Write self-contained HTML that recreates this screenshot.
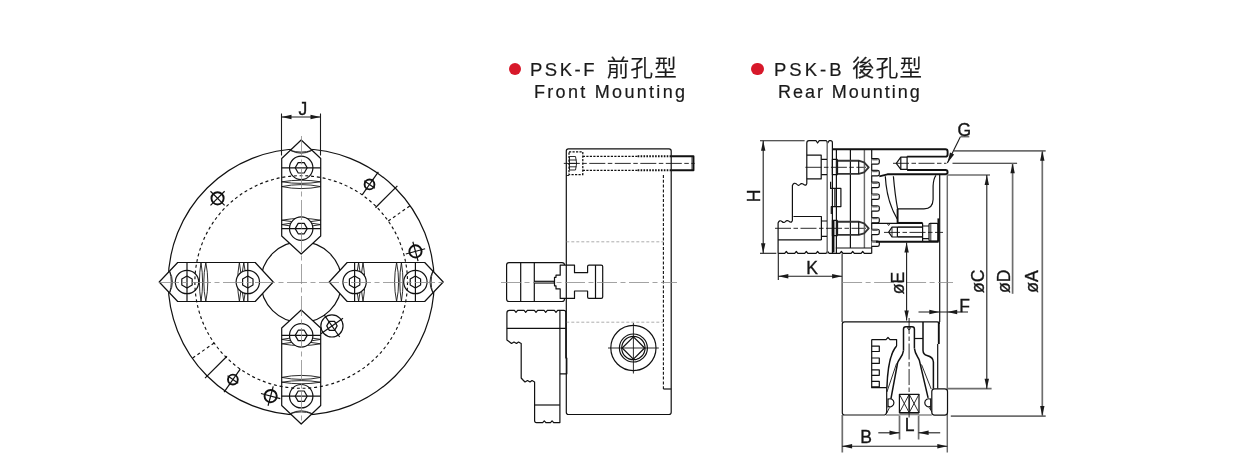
<!DOCTYPE html>
<html lang="zh-Hant"><head><meta charset="utf-8"><title>PSK</title>
<style>
html,body{margin:0;padding:0;background:#fff;}
body{width:1240px;height:471px;overflow:hidden;position:relative;font-family:"Liberation Sans","Noto Sans CJK TC",sans-serif;color:#1a1a1a;}
svg{position:absolute;left:0;top:0;display:block;will-change:transform;}
svg text{font-family:"Liberation Sans","Noto Sans CJK TC",sans-serif;fill:#161616;stroke:#161616;stroke-width:.35px;}
.m,.mw{stroke:#111;stroke-width:1.2;fill:none;stroke-linejoin:round;}
.mw{fill:#fff;}
.h{stroke:#111;stroke-width:1.5;fill:none;stroke-linejoin:round;}
.kw{stroke:#111;stroke-width:1.9;fill:#fff;}
.n{stroke:#151515;stroke-width:.9;fill:none;}
.k{stroke:#111;stroke-width:1.9;fill:none;stroke-linejoin:round;}
.kg{stroke:#333;stroke-width:1.9;fill:none;stroke-linejoin:round;}
.g{stroke:#6a6a6a;stroke-width:1.45;fill:none;}
.gk{stroke:#777;stroke-width:1.3;fill:none;}
.gx{stroke:#888;stroke-width:2.4;fill:none;}
.e{stroke:#1c1c1c;stroke-width:1.1;fill:none;}
.eg{stroke:#6e6e6e;stroke-width:1.7;fill:none;}
.a{fill:#1a1a1a;stroke:none;}
.c{stroke:#8c8c8c;stroke-width:.8;fill:none;stroke-dasharray:20 3.5 5 3.5;}
.cb{stroke:#151515;stroke-width:.9;fill:none;stroke-dasharray:16 2.5 4.5 2.5;}
.dt{stroke:#111;stroke-width:1.15;fill:none;stroke-dasharray:3 2.8;}
.dd{stroke:#111;stroke-width:1.25;fill:none;stroke-dasharray:2.2 1.3;}
.dk{stroke:#111;stroke-width:1.9;fill:none;stroke-dasharray:1.6 1.3;}
.dh{stroke:#111;stroke-width:1.1;fill:none;stroke-dasharray:3 1.8;}
.dg{stroke:#8a8a8a;stroke-width:.7;fill:none;stroke-dasharray:3 2;}
.ttl{position:absolute;white-space:nowrap;color:#1a1a1a;will-change:transform;-webkit-text-stroke:.2px #1a1a1a;}
.dot{position:absolute;width:12.4px;height:12.4px;border-radius:50%;background:#d7182a;}
.t1{font-size:18.5px;letter-spacing:2.5px;line-height:22px;}
.t1 .cj{font-size:22.5px;letter-spacing:1.3px;font-weight:350;margin-left:2px;}
.t2{font-size:18px;letter-spacing:2.3px;line-height:22px;}
</style></head>
<body>
<svg width="1240" height="471" viewBox="0 0 1240 471">
<circle class="m" cx="301.2" cy="282" r="133"/>
<circle class="m" cx="301.2" cy="282" r="40.4"/>
<line class="dt" x1="388.28" y1="221.03" x2="410.15" y2="205.71"/>
<line class="m" x1="375.45" y1="207.75" x2="397.37" y2="185.83"/>
<line class="m" x1="362.17" y1="194.92" x2="378.35" y2="171.82"/>
<line class="dt" x1="214.12" y1="342.97" x2="192.25" y2="358.29"/>
<line class="m" x1="226.95" y1="356.25" x2="205.03" y2="378.17"/>
<line class="m" x1="240.23" y1="369.08" x2="224.05" y2="392.18"/>
<circle class="kw" cx="217.55" cy="198.35" r="6.1"/>
<line class="m" x1="210.48" y1="205.42" x2="224.62" y2="191.28"/>
<line class="m" x1="224.62" y1="205.42" x2="210.48" y2="191.28"/>
<circle class="kw" cx="369.51" cy="184.44" r="4.9"/>
<line class="m" x1="365.78" y1="189.76" x2="373.24" y2="179.11"/>
<line class="m" x1="374.84" y1="188.17" x2="364.19" y2="180.71"/>
<circle class="kw" cx="415.47" cy="251.38" r="6.1"/>
<line class="m" x1="405.81" y1="253.97" x2="425.13" y2="248.79"/>
<line class="m" x1="418.06" y1="261.04" x2="412.88" y2="241.72"/>
<circle class="kw" cx="270.63" cy="396.08" r="6.1"/>
<line class="m" x1="268.05" y1="405.74" x2="273.22" y2="386.42"/>
<line class="m" x1="280.29" y1="398.66" x2="260.97" y2="393.49"/>
<circle class="kw" cx="232.89" cy="379.56" r="4.9"/>
<line class="m" x1="229.16" y1="384.89" x2="236.62" y2="374.24"/>
<line class="m" x1="238.21" y1="383.29" x2="227.56" y2="375.83"/>
<circle class="mw" cx="331.94" cy="325.91" r="11.1"/>
<polygon class="m" points="337.14,325.91 334.54,330.41 329.34,330.41 326.74,325.91 329.34,321.4 334.54,321.4"/>
<line class="m" x1="324.2" y1="314.85" x2="339.69" y2="336.97"/>
<line class="m" x1="320.89" y1="333.65" x2="343" y2="318.16"/>
<g transform="translate(301.2 282) rotate(0)">
<path class="mw" d="M0,-142 L19.5,-123.5 L19.5,-46 L0,-28 L-19.5,-46 L-19.5,-123.5 Z"/>
<path class="n" d="M-10.8,-131.6 Q0,-126 10.8,-131.6 Q0,-128.2 -10.8,-131.6"/>
<path class="n" d="M-19.5,-100.2 Q0,-103.4 19.5,-100.2 Q0,-97 -19.5,-100.2 Z"/>
<path class="n" d="M-19.5,-95.4 Q0,-99.4 19.5,-95.4 Q0,-91.4 -19.5,-95.4 Z"/>
<path class="n" d="M-19.5,-61.8 Q0,-65.4 19.5,-61.8 Q0,-58.2 -19.5,-61.8 Z"/>
<path class="n" d="M-19.5,-57.4 Q0,-61.4 19.5,-57.4 Q0,-53.4 -19.5,-57.4 Z"/>
<circle class="mw" cx="0" cy="-114.2" r="11.7"/>
<polygon class="m" points="6,-114.2 3,-109 -3,-109 -6,-114.2 -3,-119.4 3,-119.4"/>
<line class="m" x1="-19.5" y1="-114.2" x2="19.5" y2="-114.2"/>
<circle class="mw" cx="0" cy="-53.4" r="11.7"/>
<polygon class="m" points="6,-53.4 3,-48.2 -3,-48.2 -6,-53.4 -3,-58.6 3,-58.6"/>
<line class="m" x1="-19.5" y1="-53.4" x2="19.5" y2="-53.4"/>
</g>
<g transform="translate(301.2 282) rotate(90)">
<path class="mw" d="M0,-142 L19.5,-123.5 L19.5,-46 L0,-28 L-19.5,-46 L-19.5,-123.5 Z"/>
<path class="n" d="M-10.8,-131.6 Q0,-126 10.8,-131.6 Q0,-128.2 -10.8,-131.6"/>
<path class="n" d="M-19.5,-100.2 Q0,-103.4 19.5,-100.2 Q0,-97 -19.5,-100.2 Z"/>
<path class="n" d="M-19.5,-95.4 Q0,-99.4 19.5,-95.4 Q0,-91.4 -19.5,-95.4 Z"/>
<path class="n" d="M-19.5,-61.8 Q0,-65.4 19.5,-61.8 Q0,-58.2 -19.5,-61.8 Z"/>
<path class="n" d="M-19.5,-57.4 Q0,-61.4 19.5,-57.4 Q0,-53.4 -19.5,-57.4 Z"/>
<circle class="mw" cx="0" cy="-114.2" r="11.7"/>
<polygon class="m" points="6,-114.2 3,-109 -3,-109 -6,-114.2 -3,-119.4 3,-119.4"/>
<line class="m" x1="-19.5" y1="-114.2" x2="19.5" y2="-114.2"/>
<circle class="mw" cx="0" cy="-53.4" r="11.7"/>
<polygon class="m" points="6,-53.4 3,-48.2 -3,-48.2 -6,-53.4 -3,-58.6 3,-58.6"/>
<line class="m" x1="-19.5" y1="-53.4" x2="19.5" y2="-53.4"/>
</g>
<g transform="translate(301.2 282) rotate(180)">
<path class="mw" d="M0,-142 L19.5,-123.5 L19.5,-46 L0,-28 L-19.5,-46 L-19.5,-123.5 Z"/>
<path class="n" d="M-10.8,-131.6 Q0,-126 10.8,-131.6 Q0,-128.2 -10.8,-131.6"/>
<path class="n" d="M-19.5,-100.2 Q0,-103.4 19.5,-100.2 Q0,-97 -19.5,-100.2 Z"/>
<path class="n" d="M-19.5,-95.4 Q0,-99.4 19.5,-95.4 Q0,-91.4 -19.5,-95.4 Z"/>
<path class="n" d="M-19.5,-61.8 Q0,-65.4 19.5,-61.8 Q0,-58.2 -19.5,-61.8 Z"/>
<path class="n" d="M-19.5,-57.4 Q0,-61.4 19.5,-57.4 Q0,-53.4 -19.5,-57.4 Z"/>
<circle class="mw" cx="0" cy="-114.2" r="11.7"/>
<polygon class="m" points="6,-114.2 3,-109 -3,-109 -6,-114.2 -3,-119.4 3,-119.4"/>
<line class="m" x1="-19.5" y1="-114.2" x2="19.5" y2="-114.2"/>
<circle class="mw" cx="0" cy="-53.4" r="11.7"/>
<polygon class="m" points="6,-53.4 3,-48.2 -3,-48.2 -6,-53.4 -3,-58.6 3,-58.6"/>
<line class="m" x1="-19.5" y1="-53.4" x2="19.5" y2="-53.4"/>
</g>
<g transform="translate(301.2 282) rotate(270)">
<path class="mw" d="M0,-142 L19.5,-123.5 L19.5,-46 L0,-28 L-19.5,-46 L-19.5,-123.5 Z"/>
<path class="n" d="M-10.8,-131.6 Q0,-126 10.8,-131.6 Q0,-128.2 -10.8,-131.6"/>
<path class="n" d="M-19.5,-100.2 Q0,-103.4 19.5,-100.2 Q0,-97 -19.5,-100.2 Z"/>
<path class="n" d="M-19.5,-95.4 Q0,-99.4 19.5,-95.4 Q0,-91.4 -19.5,-95.4 Z"/>
<path class="n" d="M-19.5,-61.8 Q0,-65.4 19.5,-61.8 Q0,-58.2 -19.5,-61.8 Z"/>
<path class="n" d="M-19.5,-57.4 Q0,-61.4 19.5,-57.4 Q0,-53.4 -19.5,-57.4 Z"/>
<circle class="mw" cx="0" cy="-114.2" r="11.7"/>
<polygon class="m" points="6,-114.2 3,-109 -3,-109 -6,-114.2 -3,-119.4 3,-119.4"/>
<line class="m" x1="-19.5" y1="-114.2" x2="19.5" y2="-114.2"/>
<circle class="mw" cx="0" cy="-53.4" r="11.7"/>
<polygon class="m" points="6,-53.4 3,-48.2 -3,-48.2 -6,-53.4 -3,-58.6 3,-58.6"/>
<line class="m" x1="-19.5" y1="-53.4" x2="19.5" y2="-53.4"/>
</g>
<circle class="dt" cx="301.2" cy="282" r="106.3"/>
<line class="c" x1="159" y1="282.5" x2="443.5" y2="282.5"/>
<line class="c" x1="301.5" y1="136" x2="301.5" y2="423"/>
<line class="e" x1="281.5" y1="113.5" x2="281.5" y2="155.5"/>
<line class="e" x1="320.5" y1="113.5" x2="320.5" y2="155.5"/>
<line class="e" x1="281.5" y1="117" x2="320.5" y2="117"/>
<polygon class="a" points="281.5,117 291.5,119.2 291.5,114.8"/>
<polygon class="a" points="320.5,117 310.5,114.8 310.5,119.2"/>
<text x="302.8" y="114.6" font-size="17.5" text-anchor="middle">J</text>
<path class="mw" d="M509,262.6 L562,262.6 Q564.5,262.6 564.5,265 L564.5,299 Q564.5,301.5 562,301.5 L509,301.5 Q506.6,301.5 506.6,299 L506.6,265 Q506.6,262.6 509,262.6 Z"/>
<line class="m" x1="520.7" y1="262.6" x2="520.7" y2="301.5"/>
<line class="m" x1="534.3" y1="262.6" x2="534.3" y2="301.5"/>
<line class="m" x1="534.3" y1="281.3" x2="554.5" y2="281.3"/>
<line class="m" x1="534.3" y1="283" x2="554.5" y2="283"/>
<path class="mw" d="M560.2,265.1 L574.5,265.1 L574.5,272.7 L587.6,272.7 L587.6,266.6 Q587.6,265.1 589,265.1 L601.2,265.1 Q602.7,265.1 602.7,266.6 L602.7,297 Q602.7,298.4 601.2,298.4 L589,298.4 Q587.6,298.4 587.6,297 L587.6,291 L574.5,291 L574.5,298.4 L560.2,298.4 L560.2,288.9 L556,288.9 L556,285.8 L554.5,285.8 L554.5,277.3 L556,277.3 L556,275.2 L560.2,275.2 Z"/>
<line class="m" x1="595.5" y1="265.1" x2="595.5" y2="298.4"/>
<path class="m" d="M568.4,148.8 L669,148.8 Q671.2,148.8 671.2,151 L671.2,412.3 Q671.2,414.5 669,414.5 L568.4,414.5 Q566.3,414.5 566.3,412.3 L566.3,151 Q566.3,148.8 568.4,148.8 Z"/>
<rect class="dd" x="569" y="151.9" width="13.8" height="22.6"/>
<line class="dd" x1="582.8" y1="156.3" x2="637.7" y2="156.3"/>
<line class="dd" x1="582.8" y1="170.3" x2="637.7" y2="170.3"/>
<line class="dk" x1="637.7" y1="156.3" x2="671.2" y2="156.3"/>
<line class="dk" x1="637.7" y1="170.3" x2="671.2" y2="170.3"/>
<path class="k" d="M671.2,156.3 L693.5,156.3 L693.5,170.3 L671.2,170.3"/>
<line class="n" x1="692" y1="156.3" x2="692" y2="170.3"/>
<path class="n" d="M569.5,156.5 L575.5,156.5 Q577.8,163.3 575.5,170 L569.5,170 Z"/>
<line class="n" x1="569.5" y1="160" x2="576.5" y2="160"/>
<line class="n" x1="569.5" y1="163.4" x2="577" y2="163.4"/>
<line class="n" x1="569.5" y1="166.8" x2="576.5" y2="166.8"/>
<line class="cb" x1="563.8" y1="163.4" x2="694.7" y2="163.4"/>
<line class="n" x1="566.3" y1="175.5" x2="569" y2="175.5"/>
<line class="dh" x1="663.4" y1="175" x2="663.4" y2="389"/>
<line class="m" x1="663.4" y1="389" x2="671.2" y2="389"/>
<line class="dg" x1="566.3" y1="241.8" x2="663.4" y2="241.8"/>
<line class="dg" x1="566.3" y1="322.2" x2="663.4" y2="322.2"/>
<line class="c" x1="501" y1="282.5" x2="677" y2="282.5"/>
<circle class="m" cx="633.4" cy="348" r="22.6"/>
<circle class="m" cx="633.4" cy="348" r="14"/>
<circle class="m" cx="633.4" cy="348" r="11.7"/>
<polygon class="m" points="633.4,336.8 644.6,348 633.4,359.2 622.2,348"/>
<line class="n" x1="608" y1="348" x2="658.8" y2="348"/>
<line class="n" x1="633.4" y1="323" x2="633.4" y2="373.5"/>
<path class="mw" d="M506.9,313 Q506.9,310.4 509.5,310.4 L514.4,310.4 L516,312.3 L517.6,310.4 L524.1,310.4 L525.7,312.3 L527.3,310.4 L534.4,310.4 L536,312.3 L537.6,310.4 L544.1,310.4 L545.7,312.3 L547.3,310.4 L554.4,310.4 L556,312.3 L557.6,310.4 L559.9,310.4 L559.9,422.6 L553.7,422.6 L552.1,420.8 L550.5,422.6 L545.9,422.6 L544.3,420.8 L542.7,422.6 L536.5,422.6 Q534.6,422.6 534.6,420.5 L534.6,382 L532,380.5 L530,382 L527.5,380.5 L525,382 L522.5,379.5 L521.2,378 L521.2,343.5 L518.5,342 L516.5,343.5 L514,342 L511.5,343.5 L509,341.5 L506.9,340 Z"/>
<line class="m" x1="506.9" y1="328.3" x2="565.8" y2="328.3"/>
<line class="m" x1="534.6" y1="405" x2="559.9" y2="405"/>
<path class="m" d="M559.9,310.4 L563.8,310.4 Q565.8,310.4 565.8,312.4 L565.8,358 L566.8,358 L566.8,373.8 L559.9,373.8"/>
<path class="m" d="M806.8,143 Q806.8,140.7 809,140.7 L816,140.7 L817.6,143 L819.2,140.7 L826.2,140.7 L827.7,143 L829.2,140.7 L830.4,140.7 Q832.4,140.7 832.4,142.7 L832.4,253.4"/>
<path class="m" d="M806.8,143 L806.8,183.5 Q806.5,185.5 804.5,185 Q801.5,182.5 800,184.5 Q798.5,186.5 796.5,184 Q794,182 792.4,185.5 L792.4,220.5 Q792,222.5 790,222 Q787,219.5 785.5,221.5 Q784,223.5 782,221.5 Q779.5,219.5 778.1,223 L778.1,253.4"/>
<path class="m" d="M778.1,253.4 L784.7,253.4 L786.3,251.5 L787.9,253.4 L794.7,253.4 L796.3,251.5 L797.9,253.4 L804.7,253.4 L806.3,251.5 L807.9,253.4 L816,253.4 L817.6,251.5 L819.2,253.4 L826,253.4 L827.6,251.5 L829.2,253.4 L839.8,253.4 L841.4,251.5 L843,253.4 L851.1,253.4 L852.7,251.5 L854.3,253.4 L861.1,253.4 L862.7,251.5 L864.3,253.4 L871.6,253.4"/>
<line class="g" x1="827.2" y1="141" x2="827.2" y2="253.4"/>
<path class="m" d="M806.8,155.1 L821.2,155.1 L821.2,178.9 L806.8,178.9"/>
<path class="m" d="M821.2,159.4 L827,159.4 M821.2,174.6 L827,174.6"/>
<path class="m" d="M793.4,216.5 L821.4,216.5 L821.4,239.9"/>
<line class="m" x1="778.1" y1="239.9" x2="821.4" y2="239.9"/>
<path class="m" d="M821.4,221 L827,221 M821.4,236.3 L827,236.3"/>
<line class="cb" x1="805.4" y1="167.3" x2="866" y2="167.3"/>
<line class="cb" x1="775" y1="228.3" x2="866" y2="228.3"/>
<path class="m" d="M830.6,181.8 L830.6,188.4 L840.9,188.4 L840.9,206.6 L831.3,206.6 L831.3,214"/>
<line class="m" x1="834.9" y1="188.4" x2="834.9" y2="206.6"/>
<line class="k" x1="833.5" y1="220" x2="833.5" y2="252.5"/>
<line class="m" x1="836.4" y1="149.2" x2="836.4" y2="253.4"/>
<line class="m" x1="850.4" y1="149.2" x2="850.4" y2="248"/>
<line class="g" x1="864.4" y1="149.2" x2="864.4" y2="248"/>
<line class="m" x1="835.8" y1="248" x2="871.6" y2="248"/>
<path class="kg" d="M837.2,160.7 L858.7,160.7 L864.1,162.3 L868.7,167.3 L864.1,172.3 L858.7,173.9 L837.2,173.9 Z"/>
<line class="m" x1="858.7" y1="160.7" x2="858.7" y2="173.9"/>
<rect class="m" x="832.4" y="159.3" width="4.8" height="15.4"/>
<path class="kg" d="M837.2,221.7 L858.7,221.7 L864.1,223.3 L868.7,228.3 L864.1,233.3 L858.7,234.9 L837.2,234.9 Z"/>
<line class="m" x1="858.7" y1="221.7" x2="858.7" y2="234.9"/>
<rect class="m" x="832.4" y="220.3" width="4.8" height="15.4"/>
<path class="k" d="M832.4,149.2 L945.4,149.2 Q947.6,149.2 947.6,151.4 L947.6,154.4 Q947.6,156.6 945.4,156.6 L907.1,156.6"/>
<path class="k" d="M907.1,170 L945.4,170 Q947.6,170 947.6,172.2 Q947.6,174.3 945.4,174.3 L887.4,174.3 L879.3,176.3"/>
<path class="m" d="M907.1,157.2 L900.8,157.2 L896.3,163.3 L900.8,169.4 L907.1,169.4"/>
<line class="m" x1="900.8" y1="157.2" x2="900.8" y2="169.4"/>
<line class="m" x1="907.1" y1="156.6" x2="907.1" y2="170"/>
<line class="cb" x1="893" y1="163.3" x2="946.5" y2="163.3"/>
<path class="m" d="M871.7,149.2 L871.7,253.4"/>
<path class="mw" d="M871.7,158.7 L877.3,158.7 Q879.3,158.7 879.3,160.3 L879.3,162.5 Q879.3,164.1 877.3,164.1 L871.7,164.1"/>
<line class="g" x1="872.2" y1="159.7" x2="877.7" y2="159.7"/>
<path class="mw" d="M871.7,170.46 L877.3,170.46 Q879.3,170.46 879.3,172.06 L879.3,174.26 Q879.3,175.86 877.3,175.86 L871.7,175.86"/>
<line class="g" x1="872.2" y1="171.46" x2="877.7" y2="171.46"/>
<path class="mw" d="M871.7,182.22 L877.3,182.22 Q879.3,182.22 879.3,183.82 L879.3,186.02 Q879.3,187.62 877.3,187.62 L871.7,187.62"/>
<line class="g" x1="872.2" y1="183.22" x2="877.7" y2="183.22"/>
<path class="mw" d="M871.7,193.98 L877.3,193.98 Q879.3,193.98 879.3,195.58 L879.3,197.78 Q879.3,199.38 877.3,199.38 L871.7,199.38"/>
<line class="g" x1="872.2" y1="194.98" x2="877.7" y2="194.98"/>
<path class="mw" d="M871.7,205.74 L877.3,205.74 Q879.3,205.74 879.3,207.34 L879.3,209.54 Q879.3,211.14 877.3,211.14 L871.7,211.14"/>
<line class="g" x1="872.2" y1="206.74" x2="877.7" y2="206.74"/>
<path class="mw" d="M871.7,217.5 L877.3,217.5 Q879.3,217.5 879.3,219.1 L879.3,221.3 Q879.3,222.9 877.3,222.9 L871.7,222.9"/>
<line class="g" x1="872.2" y1="218.5" x2="877.7" y2="218.5"/>
<path class="mw" d="M871.7,229.26 L877.3,229.26 Q879.3,229.26 879.3,230.86 L879.3,233.06 Q879.3,234.66 877.3,234.66 L871.7,234.66"/>
<line class="g" x1="872.2" y1="230.26" x2="877.7" y2="230.26"/>
<path class="mw" d="M871.7,241.02 L877.3,241.02 Q879.3,241.02 879.3,242.62 L879.3,244.82 Q879.3,246.42 877.3,246.42 L871.7,246.42"/>
<line class="g" x1="872.2" y1="242.02" x2="877.7" y2="242.02"/>
<path class="m" d="M885.3,176.3 C886,190 889.5,206 897.2,219"/>
<path class="m" d="M893.4,176.3 Q895,195 897.6,208.9"/>
<path class="m" d="M897.6,208.9 L924,208.9 Q932.8,208.9 933.1,199.5 L933.1,186 Q933.4,178.5 936,175.3"/>
<line class="k" x1="897.6" y1="208.9" x2="897.6" y2="223.3"/>
<line class="m" x1="939.7" y1="174.3" x2="939.7" y2="321.9"/>
<line class="m" x1="871.7" y1="223.3" x2="922.6" y2="223.3"/>
<path class="n" d="M887,223.3 L888.6,225.5 L890.2,223.3"/>
<path class="kg" d="M922.6,227.1 L897.4,227.1 M922.6,236.9 L897.4,236.9"/>
<path class="m" d="M897.4,227.2 L892,227.2 L888.7,232.2 L892,237 L897.4,237"/>
<line class="m" x1="897.4" y1="227.1" x2="897.4" y2="236.9"/>
<line class="n" x1="892" y1="227.2" x2="892" y2="237"/>
<line class="k" x1="897.4" y1="222.9" x2="922.6" y2="222.9"/>
<line class="m" x1="922.6" y1="223.3" x2="922.6" y2="241.7"/>
<path class="m" d="M922.6,226 L928.9,226 M922.6,238.6 L928.9,238.6"/>
<rect class="m" x="929" y="223.3" width="9" height="17.9" rx="1.2"/>
<line class="n" x1="930.8" y1="223.3" x2="930.8" y2="241.2"/>
<line class="cb" x1="884" y1="232.4" x2="943" y2="232.4"/>
<line class="k" x1="876" y1="241.7" x2="938.6" y2="241.7"/>
<line class="k" x1="938.4" y1="218.4" x2="938.4" y2="241.7"/>
<line class="g" x1="947.3" y1="174.3" x2="947.3" y2="452.5"/>
<line class="e" x1="842.1" y1="253.4" x2="842.1" y2="322"/>
<line class="eg" x1="842.3" y1="415" x2="842.3" y2="452.5"/>
<line class="c" x1="842.1" y1="282.5" x2="953" y2="282.5"/>
<path class="m" d="M842.3,324 Q842.3,321.9 844.6,321.9 L937.2,321.9 Q939.4,321.9 939.4,324"/>
<path class="m" d="M842.3,324 L842.3,412.8 Q842.3,415 844.6,415 L884.6,415 Q886.7,414.5 886.7,411.6 L886.7,387.7"/>
<line class="k" x1="938.8" y1="321.9" x2="938.8" y2="344"/>
<line class="m" x1="937.7" y1="344" x2="937.7" y2="388.8"/>
<rect class="mw" x="931.8" y="388.8" width="15.7" height="26.3" rx="2.8"/>
<line class="gk" x1="886" y1="415" x2="899.4" y2="415"/>
<line class="gk" x1="919" y1="415" x2="931.8" y2="415"/>
<line class="gx" x1="899.4" y1="414.1" x2="919" y2="414.1"/>
<path class="h" d="M903.5,350.5 L903.5,329 Q903.5,326.7 905.8,326.7 L912.1,326.7 Q914.4,326.7 914.4,329 L914.4,348.3"/>
<path class="n" d="M907.9,326.7 L907.9,329 Q909,331.2 910.1,329 L910.1,326.7"/>
<path class="h" d="M903.5,350.5 C903,356 899,359 897.7,362.4 L890.9,398.9"/>
<path class="h" d="M914.4,348.3 C915,354 918,357 919.3,360.2 L928.1,397.8"/>
<path class="n" d="M896.6,363.4 L886.9,392"/>
<path class="n" d="M921.5,364.5 L931.2,389"/>
<path class="h" d="M896.6,346 C891,352 887.6,366 886.9,387.7"/>
<path class="m" d="M888,399.3 A4,4 0 1 1 888,406.3"/>
<line class="m" x1="888" y1="398.5" x2="888" y2="407.5"/>
<path class="m" d="M930.7,399.3 A4,4 0 1 0 930.7,406.3"/>
<line class="m" x1="930.7" y1="398.5" x2="930.7" y2="410"/>
<path class="n" d="M889.5,407.5 L886.8,413"/>
<path class="n" d="M929.2,407.5 L931.9,412"/>
<rect class="m" x="899.4" y="394.3" width="19.6" height="18.4"/>
<line class="m" x1="909.2" y1="394.3" x2="909.2" y2="412.7"/>
<path class="n" d="M899.4,394.3 L909.2,412.7 M909.2,394.3 L899.4,412.7 M909.2,394.3 L919,412.7 M919,394.3 L909.2,412.7"/>
<path class="m" d="M871.7,339.6 L886,339.6 L888,337.5 L890,339.6 L896.6,339.6 L896.6,346"/>
<path class="m" d="M871.7,339.6 L871.7,387.7 L886.9,387.7"/>
<path class="m" d="M871.7,346.1 L879.3,346.1 L879.3,351.5 L871.7,351.5"/>
<path class="m" d="M871.7,358 L879.3,358 L879.3,363.4 L871.7,363.4"/>
<path class="m" d="M871.7,369.9 L879.3,369.9 L879.3,375.3 L871.7,375.3"/>
<path class="m" d="M871.7,381.4 L879.3,381.4 L879.3,386.8 L871.7,386.8"/>
<path class="h" d="M923,321.9 L923,350.5 Q923.2,354.5 927,355.5 Q933.2,357 933.4,362 L933.4,388.8"/>
<line class="cb" x1="909.1" y1="318" x2="909.1" y2="419.6"/>
<line class="m" x1="914.4" y1="338.5" x2="923" y2="338.5"/>
<line class="e" x1="760" y1="140.7" x2="804.6" y2="140.7"/>
<line class="e" x1="760" y1="253.3" x2="776.3" y2="253.3"/>
<line class="e" x1="763.2" y1="140.7" x2="763.2" y2="253.3"/>
<polygon class="a" points="763.2,140.7 761,150.7 765.4,150.7"/>
<polygon class="a" points="763.2,253.3 765.4,243.3 761,243.3"/>
<text x="760.2" y="195.8" font-size="17.5" text-anchor="middle" transform="rotate(-90 760.2 195.8)">H</text>
<line class="e" x1="778.3" y1="253.4" x2="778.3" y2="280"/>
<line class="e" x1="778.3" y1="276.3" x2="842.1" y2="276.3"/>
<polygon class="a" points="778.3,276.3 788.3,278.5 788.3,274.1"/>
<polygon class="a" points="842.1,276.3 832.1,274.1 832.1,278.5"/>
<text x="812" y="274.3" font-size="17.5" text-anchor="middle">K</text>
<line class="e" x1="842.1" y1="446.3" x2="947.3" y2="446.3"/>
<polygon class="a" points="842.1,446.3 852.1,448.5 852.1,444.1"/>
<polygon class="a" points="947.3,446.3 937.3,444.1 937.3,448.5"/>
<text x="866.2" y="443.4" font-size="17.5" text-anchor="middle">B</text>
<line class="eg" x1="899.5" y1="415.5" x2="899.5" y2="439.5"/>
<line class="eg" x1="918.6" y1="415.5" x2="918.6" y2="439.5"/>
<line class="e" x1="878.3" y1="432.8" x2="899.5" y2="432.8"/>
<polygon class="a" points="899.5,432.8 889.5,430.6 889.5,435"/>
<line class="e" x1="918.6" y1="432.8" x2="940.2" y2="432.8"/>
<polygon class="a" points="918.6,432.8 928.6,435 928.6,430.6"/>
<text x="909.5" y="430.6" font-size="17.5" text-anchor="middle">L</text>
<line class="e" x1="906.6" y1="242.5" x2="906.6" y2="320.6"/>
<polygon class="a" points="906.6,242.5 904.4,252.5 908.8,252.5"/>
<polygon class="a" points="906.6,320.6 908.8,310.6 904.4,310.6"/>
<text x="904" y="283" font-size="17.5" text-anchor="middle" transform="rotate(-90 904 283)">øE</text>
<line class="e" x1="918.5" y1="312" x2="968" y2="312"/>
<polygon class="a" points="939.3,312 929.3,309.8 929.3,314.2"/>
<polygon class="a" points="947.2,312 957.2,314.2 957.2,309.8"/>
<text x="964.6" y="312" font-size="17.5" text-anchor="middle">F</text>
<line class="eg" x1="947.3" y1="175" x2="990" y2="175"/>
<line class="eg" x1="947.3" y1="388.7" x2="991.6" y2="388.7"/>
<line class="e" x1="986.8" y1="175" x2="986.8" y2="388.7"/>
<polygon class="a" points="986.8,175 984.6,185 989,185"/>
<polygon class="a" points="986.8,388.7 989,378.7 984.6,378.7"/>
<text x="983.8" y="281.3" font-size="17.5" text-anchor="middle" transform="rotate(-90 983.8 281.3)">øC</text>
<line class="e" x1="952.5" y1="163.2" x2="1017.1" y2="163.2"/>
<line class="eg" x1="1012.6" y1="163.2" x2="1012.6" y2="293.8"/>
<polygon class="a" points="1012.6,163.2 1010.4,173.2 1014.8,173.2"/>
<text x="1010.1" y="281.3" font-size="17.5" text-anchor="middle" transform="rotate(-90 1010.1 281.3)">øD</text>
<line class="eg" x1="953.8" y1="150.8" x2="1045.7" y2="150.8"/>
<line class="eg" x1="950.8" y1="416.1" x2="1045.7" y2="416.1"/>
<line class="eg" x1="1042.3" y1="150.8" x2="1042.3" y2="416.1"/>
<polygon class="a" points="1042.3,150.8 1040.1,160.8 1044.5,160.8"/>
<polygon class="a" points="1042.3,416.1 1044.5,406.1 1040.1,406.1"/>
<text x="1038.3" y="281.5" font-size="17.5" text-anchor="middle" transform="rotate(-90 1038.3 281.5)">øA</text>
<line class="e" x1="960.4" y1="136.8" x2="947.4" y2="163"/>
<polygon class="a" points="947.4,163 954.13,154.62 950.01,152.57"/>
<line class="eg" x1="960.4" y1="136.6" x2="969.3" y2="136.6"/>
<text x="964.4" y="136.3" font-size="17.5" text-anchor="middle">G</text>
</svg>
<div class="dot" style="left:508.8px;top:63px"></div>
<div class="ttl t1" style="left:530px;top:58px">PSK-F <span class="cj">前孔型</span></div>
<div class="ttl t2" style="left:533.5px;top:80.5px">Front Mounting</div>
<div class="dot" style="left:751.3px;top:63px"></div>
<div class="ttl t1" style="left:773.5px;top:58px;letter-spacing:3px">PSK-B <span class="cj" style="margin-left:-.8px">後孔型</span></div>
<div class="ttl t2" style="left:777.5px;top:80.5px;letter-spacing:1.97px">Rear Mounting</div>
</body></html>
